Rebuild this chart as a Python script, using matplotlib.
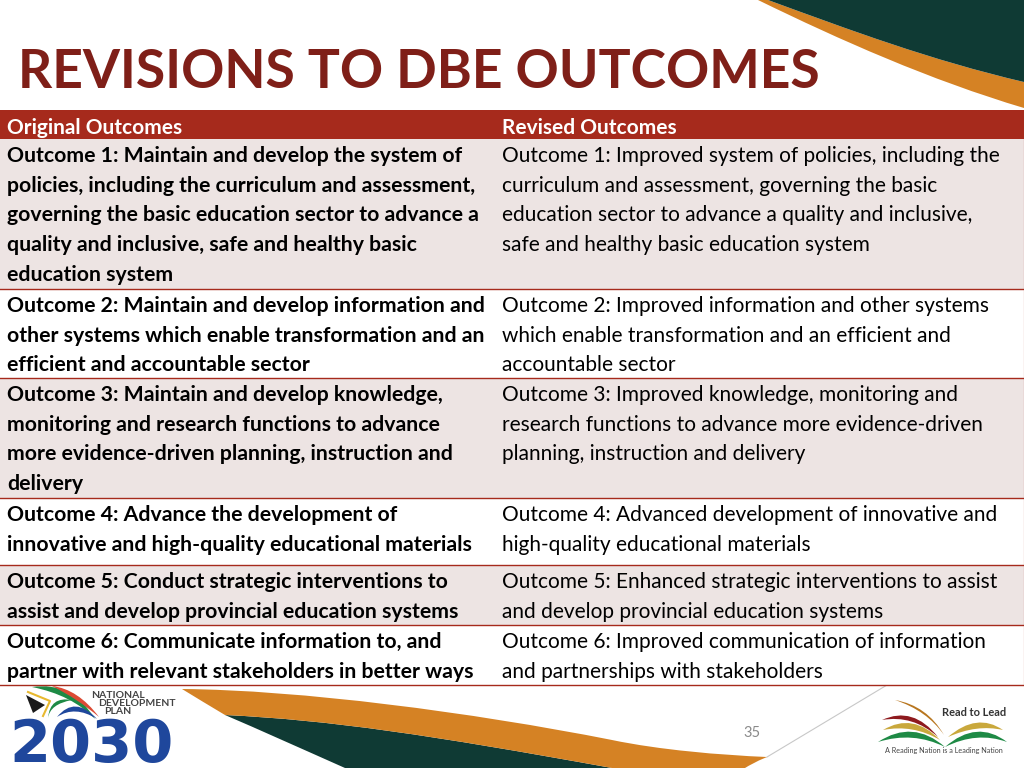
#!/usr/bin/env python3
# Slide "Revisions to DBE outcomes": a two column table with the logos and swooshes around it

import matplotlib
matplotlib.use("Agg")
import matplotlib.pyplot as plt
from matplotlib.patches import PathPatch, Polygon, Rectangle
from matplotlib.path import Path

plt.rcParams['font.family'] = ['Lato', 'DejaVu Sans']

title = "REVISIONS TO DBE OUTCOMES"
headers = ["Original Outcomes", "Revised Outcomes"]

original_outcomes = [
    ["Outcome 1: Maintain and develop the system of",
     "policies, including the curriculum and assessment,",
     "governing the basic education sector to advance a",
     "quality and inclusive, safe and healthy basic",
     "education system"],
    ["Outcome 2: Maintain and develop information and",
     "other systems which enable transformation and an",
     "efficient and accountable sector"],
    ["Outcome 3: Maintain and develop knowledge,",
     "monitoring and research functions to advance",
     "more evidence-driven planning, instruction and",
     "delivery"],
    ["Outcome 4: Advance the development of",
     "innovative and high-quality educational materials"],
    ["Outcome 5: Conduct strategic interventions to",
     "assist and develop provincial education systems"],
    ["Outcome 6: Communicate information to, and",
     "partner with relevant stakeholders in better ways"],
]

revised_outcomes = [
    ["Outcome 1: Improved system of policies, including the",
     "curriculum and assessment, governing the basic",
     "education sector to advance a quality and inclusive,",
     "safe and healthy basic education system"],
    ["Outcome 2: Improved information and other systems",
     "which enable transformation and an efficient and",
     "accountable sector"],
    ["Outcome 3: Improved knowledge, monitoring and",
     "research functions to advance more evidence-driven",
     "planning, instruction and delivery"],
    ["Outcome 4: Advanced development of innovative and",
     "high-quality educational materials"],
    ["Outcome 5: Enhanced strategic interventions to assist",
     "and develop provincial education systems"],
    ["Outcome 6: Improved communication of information",
     "and partnerships with stakeholders"],
]

page_number = "35"

# layout, in pixels of the 1024x768 slide
row_edges = [139, 289, 378, 498, 565, 625, 685]
col_x = [7, 502]
line_h = 29.7
RED = "#A62A1C"
TITLE_RED = "#7F1F18"
PINK = "#EDE4E3"
ORANGE = "#D58224"
GREEN = "#0F3A34"
BLUE = "#1F479C"

fig = plt.figure(figsize=(10.24, 7.68), dpi=100)
ax = fig.add_axes([0, 0, 1, 1])
ax.set_xlim(0, 1024)
ax.set_ylim(768, 0)
ax.axis("off")


def curve(points, color, z=1):
    # first point is a moveto, then groups of three are cubic beziers
    codes = [Path.MOVETO] + [Path.CURVE4] * (len(points) - 1)
    ax.add_patch(PathPatch(Path(points, codes), fc=color, ec="none", zorder=z))


def arc(p0, c, p1, width, color):
    # thin crescent between two points
    mid_out = (c[0], c[1] - width / 2)
    mid_in = (c[0], c[1] + width / 2)
    verts = [p0, mid_out, p1, mid_in, p0]
    codes = [Path.MOVETO, Path.CURVE3, Path.CURVE3, Path.CURVE3, Path.CURVE3]
    ax.add_patch(PathPatch(Path(verts, codes), fc=color, ec="none", zorder=3))


# swoosh, top right
curve([(758, 0), (840, 40), (930, 80), (1024, 108),
       (1024, 100), (1024, 90), (1024, 82),
       (930, 60), (850, 30), (768, 0),
       (765, 0), (760, 0), (758, 0)], ORANGE, 2)
curve([(768, 0), (850, 30), (930, 60), (1024, 82),
       (1024, 60), (1024, 20), (1024, 0),
       (940, 0), (850, 0), (768, 0)], GREEN, 2)

# swoosh, bottom
curve([(225, 715), (330, 720), (430, 735), (612, 768),
       (500, 768), (420, 768), (345, 768),
       (300, 748), (260, 730), (225, 715)], GREEN, 1)
curve([(182, 689), (300, 690), (470, 712), (612, 740),
       (660, 750), (720, 755), (767, 757),
       (755, 762), (750, 765), (745, 768),
       (700, 768), (650, 768), (612, 768),
       (430, 735), (330, 720), (225, 715),
       (210, 706), (195, 697), (182, 689)], ORANGE, 2)
ax.plot([767, 887], [757, 685], color="#C8C8C8", lw=0.8, zorder=1)

ax.text(18, 88, title, fontsize=38.5, fontweight="bold", color=TITLE_RED, va="baseline", ha="left")

# table
ax.add_patch(Rectangle((0, 110), 1024, 29, fc=RED, ec="none", zorder=3))
for x, head in zip(col_x, headers):
    ax.text(x, 133.5, head, fontsize=15, fontweight="bold", color="white", va="baseline", ha="left", zorder=5)

for i, (left, right) in enumerate(zip(original_outcomes, revised_outcomes)):
    top = row_edges[i]
    bottom = row_edges[i + 1]
    ax.add_patch(Rectangle((0, top), 1024, bottom - top, fc=PINK if i % 2 == 0 else "white",
                           ec="none", zorder=3))
    ax.plot([0, 1024], [bottom, bottom], color=RED, lw=1.0, zorder=4)
    for n, line in enumerate(left):
        ax.text(col_x[0], top + 23 + n * line_h, line, fontsize=15.3, fontweight="bold",
                color="black", va="baseline", ha="left", zorder=5)
    for n, line in enumerate(right):
        ax.text(col_x[1], top + 23 + n * line_h, line, fontsize=15.05,
                color="black", va="baseline", ha="left", zorder=5)
ax.plot([1023.5, 1023.5], [139, 685], color=RED, lw=0.8, zorder=4)

ax.text(752, 733, page_number, fontsize=10.5, color="#8A8A8A", va="center", ha="center")

# National Development Plan logo
ax.add_patch(Polygon([(26, 695), (45, 705), (33, 713)], fc="#1A1A1A", ec="none", zorder=3))
ax.plot([28, 50, 43], [692, 701, 716], color="#E8B92F", lw=1.5, zorder=3)
arc((32, 687), (72, 688), (95, 719), 14, "#1E8A45")
arc((48, 718), (50, 700), (72, 700), 8, "#1E8A45")
arc((52, 686), (78, 694), (99, 717), 10, "#DC4A34")
arc((57, 717), (75, 700), (97, 719), 10, BLUE)
for y, word, x in [(695, "NATIONAL", 91), (704, "DEVELOPMENT", 98), (712, "PLAN", 104)]:
    ax.text(x, y, word, fontsize=7.5, fontweight="bold", color="#444444", va="center", ha="left", zorder=4)
ax.text(9, 762, "2030", fontsize=42.5, fontweight="bold", family="DejaVu Sans", color=BLUE,
        va="baseline", ha="left", zorder=4)

# Read to Lead logo
arc((895, 700), (927, 708), (944, 735), 5, "#B8761F")
arc((882, 720), (913, 710), (938, 737), 9, "#8E1A1E")
arc((883, 730), (913, 718), (940, 740), 12, "#C9A83C")
arc((948, 737), (977, 718), (1003, 730), 12, "#C9A83C")
arc((878, 742), (913, 725), (945, 747), 12, "#1E8A45")
arc((945, 747), (977, 725), (1007, 742), 12, "#1E8A45")
ax.text(974, 712, "Read to Lead", fontsize=7.9, fontweight="bold", color="#333333", va="center", ha="center", zorder=4)
ax.text(943.5, 751, "A Reading Nation is a Leading Nation", fontsize=5.25, color="#444444", va="center", ha="center", zorder=4)

fig.savefig("out.png", dpi=100)
